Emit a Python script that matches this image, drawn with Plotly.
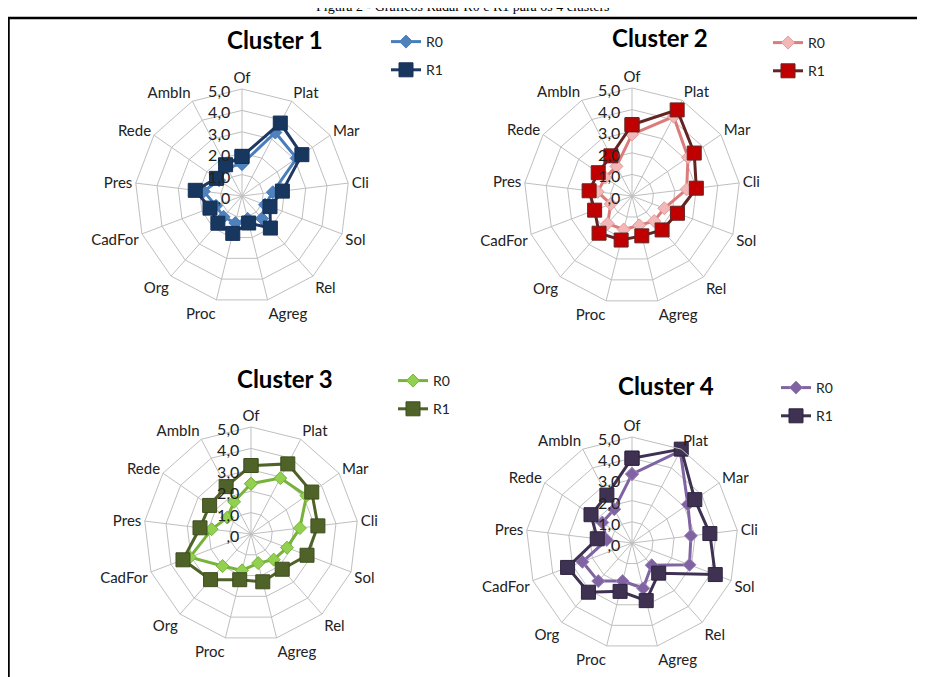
import plotly.graph_objects as go

W, H = 925, 677
OFF = 8  # the page body offsets the figure by 8 px; positions below are page pixels

categories = ["Of", "Plat", "Mar", "Cli", "Sol", "Rel", "Agreg", "Proc", "Org", "CadFor", "Pres", "Rede", "AmbIn"]
tick_vals = [0, 1, 2, 3, 4, 5]
tick_text = [",0", "1,0", "2,0", "3,0", "4,0", "5,0"]
cluster_titles = ["Cluster 1", "Cluster 2", "Cluster 3", "Cluster 4"]
series_names = ["R0", "R1"]

c1_r0 = [1.5, 3.35, 3.1, 1.45, 1.15, 1.4, 1.1, 1.3, 1.3, 1.3, 1.8, 1.3, 1.5]
c1_r1 = [1.85, 3.85, 3.4, 1.9, 1.4, 2.0, 1.3, 1.8, 1.7, 1.6, 2.2, 1.45, 1.65]
c2_r0 = [2.85, 4.15, 3.15, 2.55, 1.6, 1.55, 1.4, 1.6, 1.7, 1.05, 1.6, 1.5, 1.55]
c2_r1 = [3.3, 4.5, 3.5, 3.0, 2.25, 2.1, 1.9, 2.1, 2.3, 1.85, 2.0, 1.9, 2.1]
c3_r0 = [2.35, 2.95, 3.15, 2.3, 1.8, 1.6, 1.4, 1.75, 2.0, 3.05, 1.85, 1.35, 1.7]
c3_r1 = [3.2, 3.7, 3.45, 3.15, 2.8, 2.2, 2.3, 2.2, 2.85, 3.4, 2.4, 2.35, 2.5]
c4_r0 = [3.25, 4.9, 3.2, 2.8, 2.9, 1.4, 2.2, 1.85, 2.4, 2.5, 1.2, 1.7, 1.8]
c4_r1 = [4.0, 5.0, 3.6, 3.7, 4.2, 1.9, 2.8, 2.35, 3.1, 3.25, 1.65, 2.35, 2.55]

data = [(c1_r0, c1_r1), (c2_r0, c2_r1), (c3_r0, c3_r1), (c4_r0, c4_r1)]

# style: (line color, marker fill, marker border)
styles = [
    (("#4A7EBB", "#4F81BD", "#4A7EBB"), ("#1F3864", "#17375E", "#15305A")),
    (("#DC7C7A", "#F2B8B8", "#E39A98"), ("#632523", "#C00000", "#632523")),
    (("#77B33A", "#92D050", "#77B33A"), ("#4F6228", "#4F6228", "#3F4F1E")),
    (("#8064A2", "#8064A2", "#9A82BA"), ("#3F3151", "#3F3151", "#2E2440")),
]

# geometry in page pixels: center x, center y, radius
geom = [(242, 196, 107), (632, 196, 108), (251, 534, 107), (632, 543, 106)]
title_pos = [(275, 40), (660, 38), (285, 378), (666, 385)]
legend_pos = [(386, 26), (768, 27), (393, 365), (776, 372)]

FONT = "Lato, Open Sans, sans-serif"
TXT = "#222222"


def px(x):
    return (x - OFF) / W


def py(y):
    return 1 - (y - OFF) / H


fig = go.Figure()
layout = dict(
    width=W, height=H,
    margin=dict(l=0, r=0, t=0, b=0),
    paper_bgcolor="white",
    plot_bgcolor="white",
    font=dict(family=FONT, color=TXT, size=14),
    annotations=[],
    shapes=[],
)

for i, (vals, sty) in enumerate(zip(data, styles)):
    pid = "polar" if i == 0 else f"polar{i+1}"
    lid = "legend" if i == 0 else f"legend{i+1}"
    for j, (v, (lc, mf, mb)) in enumerate(zip(vals, sty)):
        r = list(v) + [v[0]]
        th = categories + [categories[0]]
        fig.add_trace(go.Scatterpolar(
            r=r, theta=th, mode="lines+markers", name=series_names[j],
            subplot=pid, legend=lid, legendgroup=f"g{i}{j}",
            line=dict(color=lc, width=3),
            marker=dict(symbol="diamond" if j == 0 else "square",
                        size=10 if j == 0 else 14, color=mf,
                        line=dict(color=mb, width=1)),
            hoverinfo="skip",
        ))
    cx, cy, R = geom[i]
    layout[pid] = dict(
        domain=dict(x=[px(cx - R), px(cx + R)], y=[py(cy + R), py(cy - R)]),
        gridshape="linear",
        bgcolor="white",
        radialaxis=dict(range=[0, 5], tickvals=tick_vals, ticktext=tick_text, angle=90,
                        side="counterclockwise", showline=False, gridcolor="#BFBFBF",
                        gridwidth=1, ticks="", tickfont=dict(size=16, color=TXT, family=FONT)),
        angularaxis=dict(rotation=90, direction="clockwise", categoryorder="array",
                         categoryarray=categories, linecolor="#BFBFBF", linewidth=1,
                         gridcolor="#BFBFBF", gridwidth=1, ticks="",
                         tickfont=dict(size=15, color=TXT, family=FONT)),
    )
    lx, ly = legend_pos[i]
    layout[lid] = dict(x=px(lx), y=py(ly), xanchor="left", yanchor="top",
                       bgcolor="rgba(0,0,0,0)", tracegroupgap=7,
                       font=dict(size=14, color=TXT, family=FONT), itemwidth=30)
    tx, ty = title_pos[i]
    layout["annotations"].append(dict(
        text=f"<b>{cluster_titles[i]}</b>", x=px(tx), y=py(ty), xref="paper", yref="paper",
        showarrow=False, xanchor="center", yanchor="middle",
        font=dict(size=24, color="black", family=FONT)))

layout["annotations"].append(dict(
    text="Figura 2 - Gráficos Radar R0 e R1 para os 4 clusters", x=px(463), y=py(7),
    xref="paper", yref="paper", showarrow=False, xanchor="center", yanchor="middle",
    font=dict(size=14, color="black", family="Liberation Serif, serif")))

layout["shapes"].append(dict(type="rect", xref="paper", yref="paper",
                             x0=px(8.5), x1=1.02, y0=-0.03, y1=py(18),
                             line=dict(color="black", width=2.5), fillcolor="rgba(0,0,0,0)"))

fig.update_layout(**layout)
fig.write_html("out.html")
